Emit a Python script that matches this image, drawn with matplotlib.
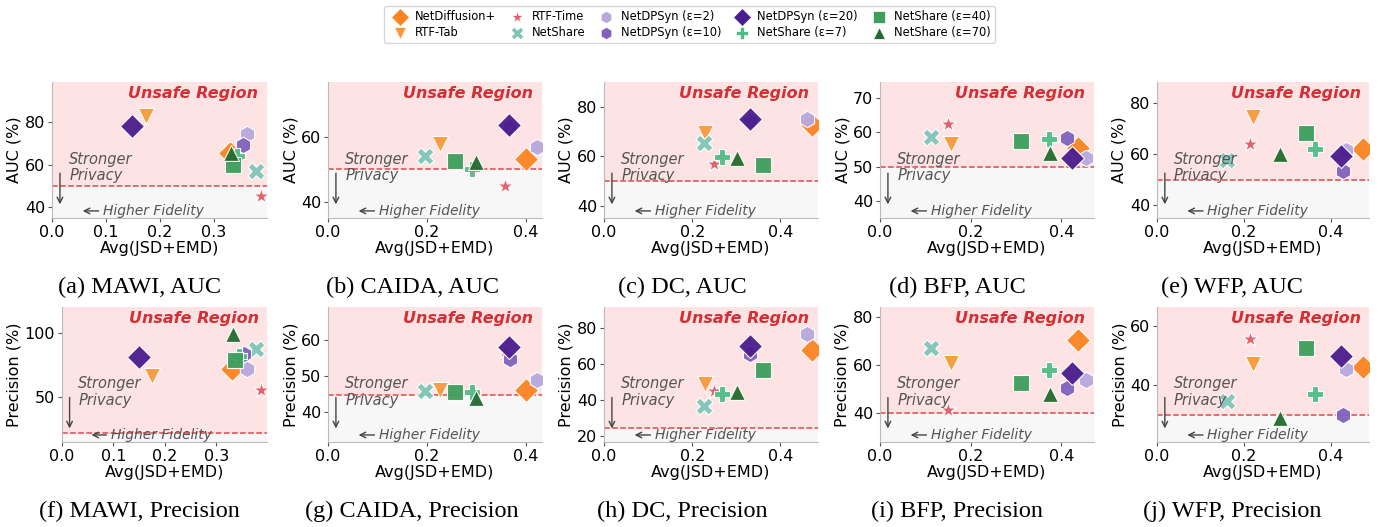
import matplotlib.pyplot as plt

datasets = ['MAWI', 'CAIDA', 'DC', 'BFP', 'WFP']
methods = ['NetDiffusion+', 'RTF-Tab', 'RTF-Time', 'NetShare',
           'NetDPSyn (ε=2)', 'NetDPSyn (ε=10)', 'NetDPSyn (ε=20)',
           'NetShare (ε=7)', 'NetShare (ε=40)', 'NetShare (ε=70)']

# Avg(JSD+EMD) per dataset, one value per method (same order as methods)
fid_mawi = [0.331, 0.175, 0.388, 0.378, 0.361, 0.355, 0.149, 0.344, 0.336, 0.333]
fid_caida = [0.399, 0.227, 0.358, 0.196, 0.422, 0.367, 0.365, 0.290, 0.256, 0.298]
fid_dc = [0.472, 0.229, 0.249, 0.226, 0.460, 0.332, 0.331, 0.268, 0.360, 0.302]
fid_bfp = [0.437, 0.156, 0.150, 0.112, 0.455, 0.412, 0.423, 0.372, 0.310, 0.374]
fid_wfp = [0.474, 0.222, 0.214, 0.160, 0.434, 0.429, 0.424, 0.363, 0.344, 0.283]

# MIA AUC (%)
auc_mawi = [65.7, 83.0, 45.2, 56.9, 74.3, 69.3, 78.4, 64.0, 60.0, 65.5]
auc_caida = [53.1, 57.7, 44.9, 54.1, 57.0, 63.0, 63.8, 50.2, 52.6, 52.4]
auc_dc = [72.8, 69.7, 57.1, 65.6, 75.1, 74.5, 75.1, 59.7, 56.6, 59.3]
auc_bfp = [55.4, 56.6, 62.4, 58.6, 52.6, 58.3, 52.4, 58.1, 57.4, 53.9]
auc_wfp = [62.1, 74.4, 63.9, 57.8, 61.7, 53.6, 59.3, 62.1, 68.3, 60.0]

# MIA precision (%)
prec_mawi = [72.0, 66.1, 55.7, 87.6, 72.0, 83.7, 81.1, 81.6, 78.5, 99.2]
prec_caida = [46.0, 46.0, 56.8, 45.8, 48.9, 54.7, 57.9, 45.6, 45.6, 43.9]
prec_dc = [67.8, 48.9, 45.2, 36.7, 76.5, 65.8, 69.8, 43.7, 56.7, 44.6]
prec_bfp = [70.2, 60.7, 41.3, 67.0, 53.8, 50.3, 56.5, 58.0, 52.5, 47.7]
prec_wfp = [46.2, 47.1, 55.6, 34.8, 45.5, 30.0, 49.9, 37.0, 52.7, 28.9]

# random-guess baselines (dashed line)
auc_thresholds = [50, 50, 50, 50, 50]
prec_thresholds = [22.0, 44.6, 24.4, 40.0, 30.0]

auc_yticks = [[40, 60, 80], [40, 60], [40, 60, 80], [40, 50, 60, 70], [40, 60, 80]]
prec_yticks = [[50, 100], [40, 50, 60], [20, 40, 60, 80], [40, 60, 80], [40, 60]]
auc_ylims = [(35, 99), (35, 77), (35, 90.2), (35, 74.7), (35, 88.3)]
prec_ylims = [(15, 120), (31.5, 69.2), (16.9, 91.6), (27.7, 84.2), (20.8, 66.6)]
xticks = [[0.0, 0.1, 0.2, 0.3], [0.0, 0.2, 0.4], [0.0, 0.2, 0.4],
          [0.0, 0.2, 0.4], [0.0, 0.2, 0.4]]
xmax = [0.399, 0.432, 0.485, 0.472, 0.488]

fids = [fid_mawi, fid_caida, fid_dc, fid_bfp, fid_wfp]
aucs = [auc_mawi, auc_caida, auc_dc, auc_bfp, auc_wfp]
precs = [prec_mawi, prec_caida, prec_dc, prec_bfp, prec_wfp]

markers = ['D', 'v', '*', 'X', 'h', 'h', 'D', 'P', 's', '^']
colors = ['#fb8422', '#f7993b', '#e25b6a', '#80c6b8', '#b8a7dd',
          '#8161bd', '#4b1c8e', '#4fbd86', '#3c9f5c', '#226b2c']
sizes = [150, 135, 140, 150, 140, 140, 150, 145, 135, 130]

W, H = 1390, 527
fig = plt.figure(figsize=(W / 100, H / 100), dpi=100)

# axes boxes in pixels: left, top, right, bottom
top_boxes = [(52, 82, 267, 218), (328, 82, 542, 218), (604, 82, 818, 218),
             (880, 82, 1094, 218), (1157, 82, 1369, 218)]
bot_boxes = [(62, 307, 267, 442), (328, 307, 542, 442), (604, 307, 818, 442),
             (880, 307, 1094, 442), (1157, 307, 1369, 442)]
cap_x = [139, 412, 682, 957, 1232]


def add_box(box):
    l, t, r, b = box
    return fig.add_axes([l / W, 1 - b / H, (r - l) / W, (b - t) / H])


def draw_panel(ax, xs, ys, thr, ylim, yticks, xt, xm, ylabel):
    ax.set_xlim(0, xm)
    ax.set_ylim(*ylim)
    ax.axhspan(thr, ylim[1], color='#fde3e3', zorder=0, lw=0)
    ax.axhspan(ylim[0], thr, color='#f7f7f7', zorder=0, lw=0)
    ax.axhline(thr, color='#e0474c', ls='--', lw=1.1, zorder=1)
    for i, m in enumerate(methods):
        ax.scatter(xs[i], ys[i], marker=markers[i], color=colors[i],
                   s=sizes[i], edgecolor='white', linewidth=0.8,
                   alpha=0.95, zorder=3 + i * 0.1)
    ax.set_xticks(xt)
    ax.set_yticks(yticks)
    ax.set_xlabel('Avg(JSD+EMD)', fontsize=11.5, labelpad=1)
    ax.set_ylabel(ylabel, fontsize=11.5, labelpad=2)
    ax.tick_params(labelsize=11.5, length=3, width=0.8, color='#555555', pad=2)
    for side in ['top', 'right']:
        ax.spines[side].set_visible(False)
    for side in ['left', 'bottom']:
        ax.spines[side].set_color('#bbbbbb')

    ax.text(0.96, 0.915, 'Unsafe Region', transform=ax.transAxes,
            ha='right', va='center', fontsize=11.5, fontweight='bold',
            fontstyle='italic', color='#d42f35', zorder=5)
    ax.text(0.08, 0.37, 'Stronger\nPrivacy', transform=ax.transAxes,
            ha='left', va='center', fontsize=10.5, fontstyle='italic',
            color='#555555', linespacing=1.1, zorder=4)
    ax.annotate('', xy=(0.037, 0.08), xytext=(0.037, 0.35),
                xycoords='axes fraction',
                arrowprops=dict(arrowstyle='->', color='#444444', lw=1.0))
    ax.text(0.238, 0.052, 'Higher Fidelity', transform=ax.transAxes,
            ha='left', va='center', fontsize=10, fontstyle='italic',
            color='#555555', zorder=4)
    ax.annotate('', xy=(0.13, 0.052), xytext=(0.23, 0.052),
                xycoords='axes fraction',
                arrowprops=dict(arrowstyle='->', color='#444444', lw=1.0))


for k, name in enumerate(datasets):
    ax = add_box(top_boxes[k])
    draw_panel(ax, fids[k], aucs[k], auc_thresholds[k], auc_ylims[k],
               auc_yticks[k], xticks[k], xmax[k], 'AUC (%)')
    fig.text(cap_x[k] / W, 1 - 287 / H, f'({"abcde"[k]}) {name}, AUC',
             ha='center', va='center', fontsize=17.5, family='Liberation Serif')

    ax = add_box(bot_boxes[k])
    draw_panel(ax, fids[k], precs[k], prec_thresholds[k], prec_ylims[k],
               prec_yticks[k], xticks[k], xmax[k], 'Precision (%)')
    fig.text(cap_x[k] / W, 1 - 511 / H, f'({"fghij"[k]}) {name}, Precision',
             ha='center', va='center', fontsize=17.5, family='Liberation Serif')

handles = [plt.scatter([], [], marker=markers[i], color=colors[i],
                       s=sizes[i] * 0.55, edgecolor='white', linewidth=0.5)
           for i in range(len(methods))]
fig.legend(handles, methods, loc='upper center', bbox_to_anchor=(0.496, 1.0),
           ncol=5, fontsize=8.3, frameon=True, handletextpad=0.3,
           columnspacing=0.8, borderpad=0.35, labelspacing=0.3,
           edgecolor='#cccccc')

fig.savefig('out.png', dpi=100)
